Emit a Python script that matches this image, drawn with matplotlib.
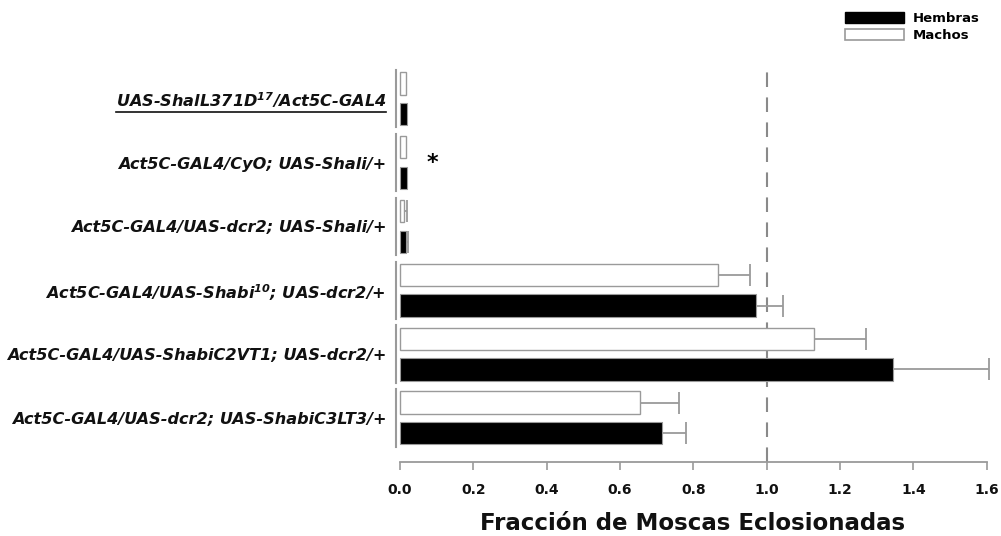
import matplotlib
matplotlib.use("Agg")
import matplotlib.pyplot as plt
from matplotlib.patches import Patch
from matplotlib.lines import Line2D
import matplotlib.transforms as mtransforms
import numpy as np

plt.rcParams['font.family'] = ['DejaVu Sans']
plt.rcParams['mathtext.fontset'] = 'custom'
plt.rcParams['mathtext.bf'] = 'DejaVu Sans:bold:italic'
plt.rcParams['mathtext.rm'] = 'DejaVu Sans:bold:italic'

# Genotypes, top to bottom
genotypes = [
    r"UAS-ShalL371D$^{\mathbf{17}}$/Act5C-GAL4",
    "Act5C-GAL4/CyO; UAS-Shali/+",
    "Act5C-GAL4/UAS-dcr2; UAS-Shali/+",
    r"Act5C-GAL4/UAS-Shabi$^{\mathbf{10}}$; UAS-dcr2/+",
    "Act5C-GAL4/UAS-ShabiC2VT1; UAS-dcr2/+",
    "Act5C-GAL4/UAS-dcr2; UAS-ShabiC3LT3/+",
]
hembras = [0.018, 0.018, 0.016, 0.970, 1.345, 0.713]
hembras_err = [0.0, 0.0, 0.006, 0.073, 0.262, 0.066]
machos = [0.016, 0.016, 0.010, 0.868, 1.128, 0.655]
machos_err = [0.0, 0.0, 0.009, 0.086, 0.143, 0.107]
xticks = [0.0, 0.2, 0.4, 0.6, 0.8, 1.0, 1.2, 1.4, 1.6]
xlabel = "Fracción de Moscas Eclosionadas"
legend_labels = ["Hembras", "Machos"]

W, H = 1001, 536
fig = plt.figure(figsize=(W / 100, H / 100), dpi=100)
ax = fig.add_axes([394.5 / W, 1 - 462 / H, (990.5 - 394.5) / W, (462 - 70) / H])

pos = np.arange(len(genotypes))
off, bh = 0.24, 0.35
grey = "#9a9a9a"

ax.barh(pos - off, machos, height=bh, color="white", edgecolor=grey, linewidth=1.0, zorder=3)
ax.barh(pos + off, hembras, height=bh, color="black", edgecolor=grey, linewidth=0.8, zorder=3)

for p, v, e in zip(pos - off, machos, machos_err):
    if e > 0:
        ax.errorbar(v, p, xerr=[[0], [e]], fmt="none", ecolor=grey, elinewidth=1.3,
                    capsize=8, capthick=1.3, zorder=2)
for p, v, e in zip(pos + off, hembras, hembras_err):
    if e > 0:
        ax.errorbar(v, p, xerr=[[0], [e]], fmt="none", ecolor=grey, elinewidth=1.3,
                    capsize=8, capthick=1.3, zorder=2)

# Reference line at 1.0
ax.axvline(1.0, color="#8a8a8a", lw=1.5, dashes=(7, 5), zorder=1)

# One short axis segment per genotype
trans = mtransforms.blended_transform_factory(ax.transAxes, ax.transData)
for p in pos:
    ax.plot([0.0025, 0.0025], [p - 0.45, p + 0.45], color=grey, lw=1.5, transform=trans,
            clip_on=False)

ax.set_xlim(-0.015, 1.61)
ax.set_ylim(5.69, -0.45)

for s in ("left", "top", "right"):
    ax.spines[s].set_visible(False)
ax.spines["bottom"].set_bounds(0, 1.6)
ax.spines["bottom"].set_color(grey)
ax.spines["bottom"].set_linewidth(1.3)

ax.set_xticks(xticks)
ax.set_xticklabels([f"{t:.1f}" for t in xticks], fontsize=10, fontweight="bold", color="#111")
ax.tick_params(axis="x", direction="out", length=6, width=1.2, color=grey, pad=9)
ax.set_yticks(pos)
ax.set_yticklabels(genotypes, fontsize=11.6, fontweight="bold", fontstyle="italic", color="#111")
ax.tick_params(axis="y", length=0, pad=6)

ax.set_xlabel(xlabel, fontsize=16.5, fontweight="bold", color="#111", labelpad=11)

ax.text(0.087, 1.0, "*", fontsize=16, fontweight="bold", ha="center", va="center")

# Underline the first genotype
fig.canvas.draw()
lab = ax.get_yticklabels()[0]
bb = lab.get_window_extent().transformed(fig.transFigure.inverted())
fig.add_artist(Line2D([bb.x0, bb.x1], [bb.y0 - 0.004, bb.y0 - 0.004], color="#111",
                      lw=1.2, transform=fig.transFigure))

handles = [Patch(facecolor="black", edgecolor="black"),
           Patch(facecolor="white", edgecolor=grey, linewidth=1.2)]
fig.legend(handles, legend_labels, loc="upper left", bbox_to_anchor=(845 / W, 1 - 12 / H),
           frameon=False, borderpad=0, borderaxespad=0, handlelength=4.5, handleheight=0.85,
           handletextpad=0.6, labelspacing=0.3, prop={"weight": "bold", "size": 9.5})

fig.savefig("out.png", dpi=100)
